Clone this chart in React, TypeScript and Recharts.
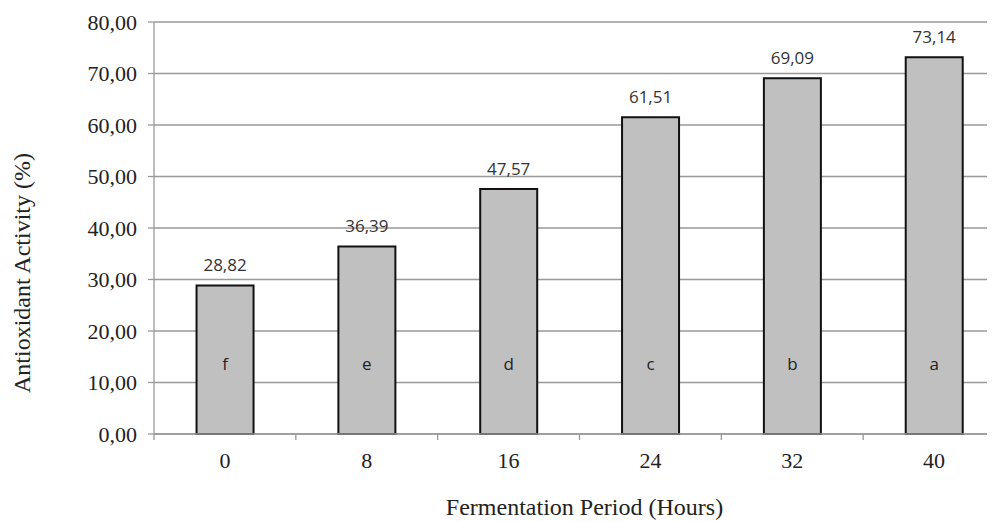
import React from 'react';
import { BarChart, Bar, XAxis, YAxis, CartesianGrid, LabelList, Label } from 'recharts';

const hours = ['0', '8', '16', '24', '32', '40'];
const activity = [28.82, 36.39, 47.57, 61.51, 69.09, 73.14];
const letters = ['f', 'e', 'd', 'c', 'b', 'a'];
const yTicks = [0, 10, 20, 30, 40, 50, 60, 70, 80];

const data = hours.map((h, i) => ({ hour: h, value: activity[i], letter: letters[i] }));

const fmt = (v: number) => v.toFixed(2).replace('.', ',');

const CHART_W = 1015;
const CHART_H = 522;
const Y_AXIS_W = 154;
const MARGIN_R = 10;
const PLOT_W = CHART_W - Y_AXIS_W - MARGIN_R;

const XTick = (props: any) => {
  const { x, y, payload } = props;
  const half = PLOT_W / hours.length / 2;
  return (
    <g>
      <line x1={x - half} x2={x - half} y1={y - 8} y2={y - 2} stroke="#999" strokeWidth={1.3} />
      <text x={x} y={y + 18} textAnchor="middle" dominantBaseline="central" fontFamily="'Liberation Serif', 'Times New Roman', serif" fontSize={22} fill="#222">
        {payload.value}
      </text>
    </g>
  );
};

const ValueLabel = (props: any) => {
  const { x, y, width, value } = props;
  return (
    <text x={x + width / 2} y={y - 21} textAnchor="middle" dominantBaseline="central" fontFamily="'Open Sans', sans-serif" fontSize={17} fill="#333">
      {fmt(value)}
    </text>
  );
};

const LetterLabel = (props: any) => {
  const { x, y, width, height, value } = props;
  return (
    <text x={x + width / 2} y={y + height - 71} textAnchor="middle" dominantBaseline="central" fontFamily="'Open Sans', sans-serif" fontSize={17} fill="#222">
      {value}
    </text>
  );
};

export default function App() {
  return (
    <div style={{ marginLeft: -8, marginTop: -8, width: 995, height: 522, overflow: 'hidden', background: '#fff' }}>
      <BarChart
        width={CHART_W}
        height={CHART_H}
        data={data}
        margin={{ top: 22, right: MARGIN_R, bottom: 0, left: 0 }}
        barCategoryGap="30%"
      >
        <CartesianGrid vertical={false} stroke="#999" strokeWidth={1.3} />
        <XAxis
          dataKey="hour"
          height={88}
          axisLine={{ stroke: '#999', strokeWidth: 1.3 }}
          tickLine={false}
          tick={<XTick />}
          interval={0}
        >
          <Label
            content={(p: any) => {
              const vb = p.viewBox;
              return (
                <text x={vb.x + vb.width / 2 + 5} y={507} textAnchor="middle" dominantBaseline="central" fontFamily="'Liberation Serif', 'Times New Roman', serif" fontSize={24} fill="#222">
                  Fermentation Period (Hours)
                </text>
              );
            }}
          />
        </XAxis>
        <YAxis
          width={Y_AXIS_W}
          domain={[0, 80]}
          ticks={yTicks}
          tickFormatter={fmt}
          axisLine={{ stroke: '#999', strokeWidth: 1.3 }}
          tickLine={{ stroke: '#999', strokeWidth: 1.3 }}
          tickSize={6}
          tickMargin={11}
          tick={{ fontFamily: "'Liberation Serif', 'Times New Roman', serif", fontSize: 22, fill: '#222' }}
        >
          <Label
            content={() => (
              <text x={22} y={273} transform="rotate(-90 22 273)" textAnchor="middle" dominantBaseline="central" fontFamily="'Liberation Serif', 'Times New Roman', serif" fontSize={24} fill="#222">
                Antioxidant Activity (%)
              </text>
            )}
          />
        </YAxis>
        <Bar dataKey="value" fill="#c0c0c0" stroke="#111" strokeWidth={2} isAnimationActive={false}>
          <LabelList dataKey="value" content={<ValueLabel />} />
          <LabelList dataKey="letter" content={<LetterLabel />} />
        </Bar>
      </BarChart>
    </div>
  );
}
